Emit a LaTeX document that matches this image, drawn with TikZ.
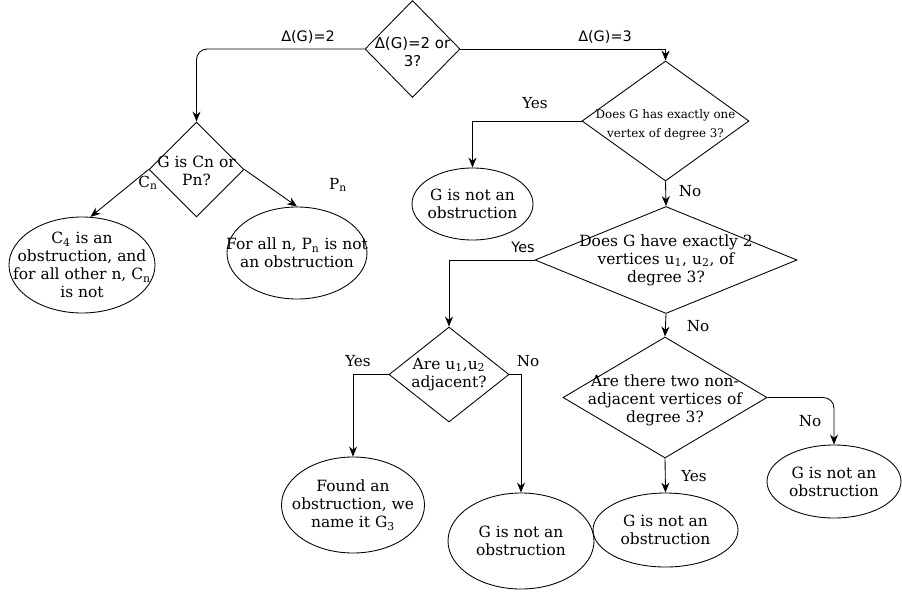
\documentclass[tikz,border=0pt]{standalone}
\usepackage{fontspec}
\setmainfont{DejaVu Serif}
\newfontfamily\dvsans{DejaVu Sans}
\usetikzlibrary{shapes.geometric,arrows.meta}
\tikzset{
  decision/.style 2 args={diamond, draw, inner sep=0pt, minimum width=#1*0.75pt, minimum height=#2*0.75pt},
  outcome/.style 2 args={ellipse, draw, inner sep=0pt, minimum width=#1*0.75pt, minimum height=#2*0.75pt},
  txt/.style={align=center, font=\fontsize{11.6}{13.5}\selectfont},
  txtsmall/.style={align=center, font=\fontsize{8.9}{14}\selectfont},
  txtsans/.style={align=center, font=\dvsans\fontsize{11.2}{13.5}\selectfont},
  lbl/.style={inner sep=1pt, font=\fontsize{11.4}{13.5}\selectfont},
  lblsans/.style={inner sep=1pt, font=\dvsans\fontsize{10.8}{13.5}\selectfont},
  arr/.style={-{Stealth[length=7.5pt,width=6pt]}},
}
\begin{document}
\begin{tikzpicture}[x=0.75pt,y=0.75pt,yscale=-1,xscale=1,line width=0.65pt]
\useasboundingbox (0,0) rectangle (902,593);

% Decisions
\node[decision={95}{97}, label={[txtsans,yshift=-2pt]center:{Δ(G)=2 or\\3?}}] (q1) at (412.5,49) {};
\node[decision={95}{95}, label={[txt,yshift=-1pt]center:{G is Cn or\\Pn?}}] (qc) at (196.5,169.5) {};
\node[decision={167}{120}, label={[txtsmall,yshift=-3pt]center:{Does G has exactly one\\vertex of degree 3?}}] (q2) at (665.5,121) {};
\node[decision={262}{107}, label={[txt]center:{Does G have exactly 2\\vertices u\textsubscript{1}, u\textsubscript{2}, of\\degree 3?}}] (q3) at (666,260) {};
\node[decision={120}{95}, label={[txt]center:{Are u\textsubscript{1},u\textsubscript{2}\\adjacent?}}] (q4) at (449,374.5) {};
\node[decision={204}{121}, label={[txt,yshift=-2pt]center:{Are there two non-\\adjacent vertices of\\degree 3?}}] (q5) at (665,397.5) {};

% Outcomes
\node[outcome={146}{96}, label={[txt]center:{C\textsubscript{4} is an\\obstruction, and\\for all other n, C\textsubscript{n}\\is not}}] (eC) at (82,265) {};
\node[outcome={140}{92}, label={[txt]center:{For all n, P\textsubscript{n} is not\\an obstruction}}] (eP) at (297,253) {};
\node[outcome={121}{72}, label={[txt]center:{G is not an\\obstruction}}] (e1) at (472.5,204) {};
\node[outcome={143}{96}, label={[txt]center:{Found an\\obstruction, we\\name it G\textsubscript{3}}}] (eG3) at (353,505) {};
\node[outcome={146}{96}, label={[txt]center:{G is not an\\obstruction}}] (e2) at (521,541) {};
\node[outcome={145}{74}, label={[txt]center:{G is not an\\obstruction}}] (e3) at (665.5,530) {};
\node[outcome={134}{73}, label={[txt]center:{G is not an\\obstruction}}] (e4) at (834,481.5) {};

% Connectors
\draw[arr, rounded corners=8] (q1.west) -| (qc.north);
\draw[arr] (q1.east) -| (q2.north);
\draw[arr] (qc.west) -- (eC.80);
\draw[arr] (qc.east) -- (eP.north);
\draw[arr] (q2.west) -| (e1.north);
\draw[arr] (q2.south) -- (q3.north);
\draw[arr] (q3.west) -| (q4.north);
\draw[arr] (q3.south) -- (q5.north);
\draw[arr] (q4.west) -| (eG3.north);
\draw[arr] (q4.east) -| (e2.north);
\draw[arr, rounded corners=8] (q5.east) -| (e4.north);
\draw[arr] (q5.south) -- (e3.north);

% Text Node
\node[lblsans] (t1) at (308,37) {Δ(G)=2};
\node[lblsans] (t2) at (605,37) {Δ(G)=3};
\node[lbl] (t3) at (148,183) {C\textsubscript{n}};
\node[lbl] (t4) at (338,185) {P\textsubscript{n}};
\node[lbl] (t5) at (535,103) {Yes};
\node[lbl] (t6) at (690,191) {No};
\node[lblsans] (t7) at (523,247) {Yes};
\node[lbl] (t8) at (698,326) {No};
\node[lbl] (t9) at (358,361) {Yes};
\node[lbl] (t10) at (528,361) {No};
\node[lbl] (t11) at (810,421) {No};
\node[lbl] (t12) at (694,476) {Yes};

\end{tikzpicture}
\end{document}
